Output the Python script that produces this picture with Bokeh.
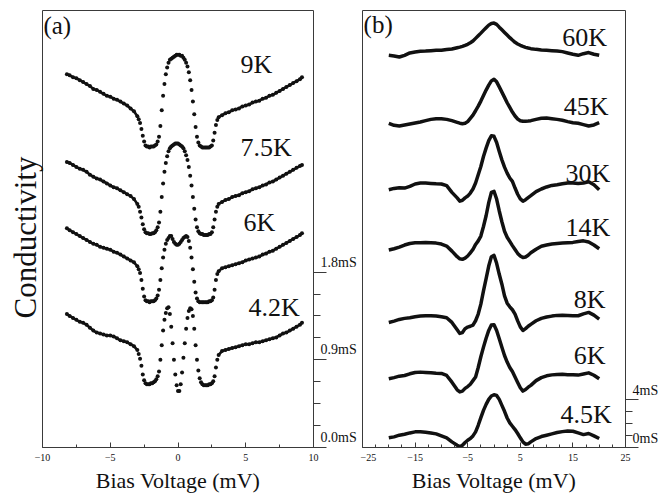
from bokeh.plotting import figure
from bokeh.models import LinearAxis, FixedTicker, Range1d, CustomJSTickFormatter, Title
from bokeh.layouts import row
from bokeh.embed import file_html
from bokeh.resources import INLINE
from bokeh.core.properties import value

FONT = "Liberation Serif"
INK = "#111111"
FRAME = "#3a3a3a"

# ---------------- panel (a) data : bias (mV) vs conductivity (mS, offset curves)
bias_a = [-8.2, -8.0, -7.75, -7.5, -7.25, -7.0, -6.75, -6.5, -6.25, -6.0, -5.75, -5.5, -5.25,
          -5.0, -4.75, -4.5, -4.25, -4.0, -3.75, -3.5, -3.25,
          -3.0, -2.9, -2.8, -2.7, -2.6, -2.5, -2.4, -2.3, -2.2, -2.1, -2.0, -1.9, -1.8, -1.7,
          -1.6, -1.5, -1.4, -1.3, -1.2, -1.1, -1.0, -0.9, -0.8, -0.7, -0.6, -0.5, -0.4, -0.3,
          -0.2, -0.1, 0.0, 0.1, 0.2, 0.3, 0.4, 0.5, 0.6, 0.7, 0.8, 0.9, 1.0, 1.1, 1.2, 1.3,
          1.4, 1.5, 1.6, 1.7, 1.8, 1.9, 2.0, 2.1, 2.2, 2.3, 2.4, 2.5, 2.6, 2.7, 2.8, 2.9, 3.0,
          3.25, 3.5, 3.75, 4.0, 4.25, 4.5, 4.75, 5.0, 5.25, 5.5, 5.75, 6.0, 6.25, 6.5, 6.75,
          7.0, 7.25, 7.5, 7.75, 8.0, 8.25, 8.5, 8.75, 9.0, 9.15]

g_9K = [3.83, 3.82, 3.80, 3.79, 3.77, 3.75, 3.73, 3.71, 3.68, 3.67, 3.65, 3.63, 3.61,
        3.60, 3.58, 3.57, 3.55, 3.53, 3.51, 3.48, 3.45,
        3.40, 3.37, 3.33, 3.27, 3.20, 3.14, 3.10, 3.09, 3.09, 3.08, 3.09, 3.09, 3.09, 3.10,
        3.11, 3.14, 3.19, 3.30, 3.46, 3.61, 3.73, 3.83, 3.90, 3.95, 3.98, 3.99, 4.00, 4.01,
        4.02, 4.03, 4.03, 4.03, 4.02, 4.02, 4.00, 3.98, 3.95, 3.91, 3.85, 3.77, 3.67, 3.55,
        3.42, 3.29, 3.19, 3.13, 3.10, 3.09, 3.08, 3.08, 3.08, 3.08, 3.08, 3.08, 3.09, 3.10,
        3.15, 3.23, 3.31, 3.36, 3.39,
        3.41, 3.43, 3.44, 3.46, 3.47, 3.48, 3.50, 3.51, 3.52, 3.54, 3.55, 3.56, 3.58,
        3.59, 3.61, 3.62, 3.64, 3.66, 3.68, 3.70, 3.72, 3.74, 3.76, 3.78, 3.80]

g_7_5K = [2.93, 2.92, 2.90, 2.88, 2.86, 2.85, 2.83, 2.80, 2.78, 2.76, 2.75, 2.73, 2.71,
          2.69, 2.67, 2.66, 2.64, 2.62, 2.60, 2.58, 2.55,
          2.50, 2.47, 2.42, 2.36, 2.29, 2.24, 2.21, 2.20, 2.20, 2.19, 2.19, 2.20, 2.20, 2.21,
          2.23, 2.26, 2.31, 2.42, 2.57, 2.71, 2.83, 2.92, 2.99, 3.04, 3.07, 3.09, 3.10, 3.11,
          3.12, 3.12, 3.12, 3.11, 3.10, 3.09, 3.07, 3.04, 3.00, 2.95, 2.88, 2.79, 2.69, 2.57,
          2.45, 2.34, 2.26, 2.22, 2.20, 2.19, 2.19, 2.18, 2.18, 2.18, 2.18, 2.19, 2.19, 2.21,
          2.26, 2.34, 2.42, 2.47, 2.50,
          2.52, 2.54, 2.55, 2.57, 2.58, 2.59, 2.61, 2.62, 2.63, 2.65, 2.66, 2.67, 2.69,
          2.70, 2.72, 2.73, 2.75, 2.77, 2.79, 2.81, 2.83, 2.85, 2.87, 2.89, 2.90]

g_6K = [2.25, 2.23, 2.21, 2.19, 2.17, 2.15, 2.13, 2.11, 2.09, 2.08, 2.06, 2.05, 2.04,
        2.03, 2.01, 2.00, 1.98, 1.96, 1.94, 1.92, 1.90,
        1.86, 1.83, 1.79, 1.72, 1.63, 1.55, 1.51, 1.50, 1.50, 1.49, 1.50, 1.50, 1.50, 1.51,
        1.53, 1.56, 1.62, 1.72, 1.84, 1.95, 2.03, 2.09, 2.13, 2.15, 2.17, 2.17, 2.14, 2.11,
        2.09, 2.08, 2.08, 2.09, 2.11, 2.13, 2.15, 2.16, 2.17, 2.16, 2.12, 2.05, 1.95, 1.83,
        1.70, 1.59, 1.53, 1.50, 1.49, 1.49, 1.49, 1.49, 1.49, 1.49, 1.49, 1.50, 1.50, 1.51,
        1.54, 1.62, 1.72, 1.78, 1.81,
        1.84, 1.85, 1.86, 1.87, 1.88, 1.89, 1.90, 1.92, 1.93, 1.94, 1.95, 1.96, 1.98,
        1.99, 2.01, 2.02, 2.04, 2.06, 2.08, 2.10, 2.12, 2.14, 2.16, 2.18, 2.20]

g_4_2K = [1.37, 1.35, 1.33, 1.31, 1.29, 1.28, 1.26, 1.23, 1.20, 1.18, 1.17, 1.16, 1.15,
          1.15, 1.14, 1.12, 1.10, 1.09, 1.08, 1.06, 1.04,
          1.00, 0.96, 0.91, 0.84, 0.75, 0.69, 0.66, 0.65, 0.65, 0.65, 0.66, 0.66, 0.67, 0.68,
          0.70, 0.73, 0.78, 0.90, 1.05, 1.20, 1.31, 1.38, 1.43, 1.44, 1.37, 1.24, 1.07, 0.90,
          0.75, 0.64, 0.58, 0.58, 0.65, 0.77, 0.92, 1.07, 1.22, 1.33, 1.40, 1.43, 1.42, 1.35,
          1.22, 1.05, 0.90, 0.79, 0.71, 0.67, 0.65, 0.64, 0.64, 0.64, 0.64, 0.65, 0.65, 0.66,
          0.68, 0.73, 0.82, 0.90, 0.95,
          0.99, 1.00, 1.01, 1.02, 1.03, 1.04, 1.05, 1.06, 1.06, 1.07, 1.08, 1.08, 1.09,
          1.10, 1.11, 1.12, 1.13, 1.15, 1.17, 1.18, 1.20, 1.22, 1.24, 1.26, 1.28]

temps_a = ["9K", "7.5K", "6K", "4.2K"]
temps_a_x = [4.61, 4.61, 4.83, 5.20]
temps_a_y = [3.93, 3.08, 2.31, 1.44]

ticks_a = [-10, -5, 0, 5, 10]
minor_a = [-7.5, -2.5, 2.5, 7.5]
scale_a = [0.0, 0.9, 1.8]
scale_a_minor = [0.225, 0.45, 0.675, 1.125, 1.35, 1.575]
scale_a_labels = ["0.0mS", "0.9mS", "1.8mS"]

# ---------------- panel (b) data
bias_b = [-20, -19, -18, -17, -16, -15, -14, -13, -12, -11, -10, -9, -8,
          -7, -6.5, -6, -5.5, -5, -4.5, -4, -3.5, -3, -2.5, -2, -1.5, -1, -0.5, 0, 0.5,
          1, 1.5, 2, 2.5, 3, 3.5, 4, 4.5, 5, 5.5, 6, 6.5, 7,
          8, 9, 10, 11, 12, 13, 14, 15, 16, 17, 18, 19, 20]

g_60K = [32.83, 32.78, 32.69, 32.83, 33.03, 33.11, 33.17, 33.19, 33.22, 33.25, 33.25, 33.31, 33.36,
         33.47, 33.52, 33.58, 33.66, 33.75, 33.88, 34.03, 34.25, 34.47, 34.69, 34.92, 35.14, 35.36,
         35.50, 35.53, 35.42, 35.19, 34.97, 34.75, 34.53, 34.31, 34.11, 33.92, 33.78, 33.67, 33.58,
         33.50, 33.44, 33.39,
         33.33, 33.28, 33.25, 33.22, 33.19, 33.14, 33.03, 32.92, 32.83, 32.97, 33.06, 32.92, 32.83]

g_45K = [27.14, 26.97, 26.92, 27.00, 27.08, 27.17, 27.25, 27.36, 27.47, 27.53, 27.53, 27.47, 27.36,
         27.22, 27.15, 27.11, 27.14, 27.28, 27.55, 27.83, 28.19, 28.58, 29.00, 29.47, 29.92, 30.33,
         30.69, 30.83, 30.61, 30.19, 29.75, 29.31, 28.86, 28.47, 28.08, 27.75, 27.50, 27.36, 27.31,
         27.31, 27.33, 27.36,
         27.47, 27.56, 27.58, 27.53, 27.47, 27.39, 27.28, 27.19, 27.14, 27.03, 26.92, 27.00, 27.19]

g_30K = [21.58, 21.69, 21.75, 21.72, 21.86, 22.06, 22.14, 22.14, 22.11, 22.08, 22.06, 21.92, 21.36,
         20.90, 20.62, 20.70, 20.90, 21.05, 21.30, 21.64, 22.14, 22.83, 23.53, 24.36, 25.06, 25.69,
         26.10, 26.05, 25.53, 24.78, 24.08, 23.47, 22.97, 22.56, 22.28, 21.72, 21.20, 20.81, 20.62,
         20.75, 20.92, 21.08,
         21.42, 21.64, 21.81, 21.94, 22.00, 22.08, 22.14, 22.14, 22.11, 22.14, 22.25, 22.00, 21.58]

g_14K = [16.53, 16.64, 16.78, 16.95, 17.08, 17.14, 17.14, 17.17, 17.14, 17.11, 17.03, 16.86, 16.44,
         15.97, 15.80, 15.75, 15.85, 16.03, 16.30, 16.58, 17.00, 17.30, 17.70, 18.50, 19.40, 20.50,
         21.36, 21.44, 20.80, 19.80, 18.90, 18.10, 17.60, 17.25, 16.90, 16.58, 16.25, 16.03, 15.90,
         15.95, 16.10, 16.30,
         16.60, 16.85, 16.95, 17.03, 17.08, 17.11, 17.14, 17.17, 17.25, 17.30, 17.20, 16.95, 16.64]

g_8K = [10.47, 10.58, 10.72, 10.81, 10.86, 10.94, 11.00, 11.03, 11.03, 11.00, 10.94, 10.86, 10.47,
        9.86, 9.55, 9.62, 9.95, 10.08, 10.15, 10.25, 10.61, 11.17, 12.00, 13.11, 14.14, 15.19,
        15.97, 16.08, 15.42, 14.50, 13.67, 12.69, 12.08, 11.78, 11.53, 11.17, 10.60, 10.10, 9.80,
        9.95, 10.15, 10.31,
        10.61, 10.81, 10.92, 11.00, 11.06, 11.08, 11.06, 11.03, 11.03, 11.19, 11.31, 11.08, 10.75]

g_6Kb = [5.75, 5.85, 5.97, 6.03, 6.17, 6.28, 6.31, 6.28, 6.25, 6.22, 6.20, 6.03, 5.47,
         4.83, 4.65, 4.72, 4.95, 5.10, 5.30, 5.60, 5.90, 6.70, 7.60, 8.40, 9.15, 9.80,
         10.25, 10.28, 9.80, 9.10, 8.40, 7.70, 7.15, 6.70, 6.36, 5.90, 5.45, 5.00, 4.72,
         4.85, 5.05, 5.20,
         5.60, 5.85, 6.00, 6.08, 6.12, 6.14, 6.10, 6.08, 6.06, 6.15, 6.25, 6.05, 5.75]

g_4_5K = [0.81, 0.89, 1.03, 1.11, 1.22, 1.31, 1.31, 1.28, 1.22, 1.14, 0.97, 0.81, 0.47,
          0.19, 0.06, 0.19, 0.42, 0.61, 0.75, 0.97, 1.31, 1.86, 2.50, 3.11, 3.61, 4.03,
          4.31, 4.42, 4.36, 4.03, 3.53, 3.03, 2.47, 2.06, 1.78, 1.50, 1.17, 0.81, 0.47,
          0.28, 0.31, 0.47,
          0.75, 0.92, 1.03, 1.14, 1.25, 1.33, 1.39, 1.36, 1.22, 1.08, 1.17, 0.97, 0.75]

temps_b = ["60K", "45K", "30K", "14K", "8K", "6K", "4.5K"]
temps_b_x = [12.97, 13.27, 13.59, 13.59, 15.17, 15.17, 12.64]
temps_b_y = [34.36, 28.53, 22.97, 18.39, 12.42, 7.67, 2.75]

ticks_b = [-25, -15, -5, 5, 15, 25]
minor_b = [-22.5, -20, -17.5, -12.5, -10, -7.5, -2.5, 0, 2.5, 7.5, 10, 12.5, 17.5, 20, 22.5]
scale_b = [0, 4]
scale_b_minor = [1, 2, 3]
scale_b_labels = ["0mS", "4mS"]

for s in (g_9K, g_7_5K, g_6K, g_4_2K):
    assert len(s) == len(bias_a), len(s)
for s in (g_60K, g_45K, g_30K, g_14K, g_8K, g_6Kb, g_4_5K):
    assert len(s) == len(bias_b), len(s)

H = 495
BOTTOM = 46


def style_common(p):
    p.xgrid.visible = False
    p.ygrid.visible = False
    p.outline_line_color = FRAME
    p.outline_line_width = 1
    ax = p.xaxis[0]
    ax.major_tick_in = 5
    ax.major_tick_out = 0
    ax.minor_tick_in = 3
    ax.minor_tick_out = 0
    ax.axis_line_color = FRAME
    ax.major_tick_line_color = FRAME
    ax.minor_tick_line_color = FRAME
    ax.major_label_text_font = FONT
    ax.major_label_text_font_size = "10px"
    ax.major_label_text_color = INK
    ax.major_label_standoff = 6
    ax.axis_label = "Bias Voltage (mV)"
    ax.axis_label_text_font = FONT
    ax.axis_label_text_font_size = "22px"
    ax.axis_label_text_font_style = "normal"
    ax.axis_label_text_color = INK
    ax.axis_label_standoff = 4


def add_scale(p, ticks, minors, labels, px_up, units_per_px):
    # tick marks of the conductivity scale bar
    tick_axis = LinearAxis(ticker=FixedTicker(ticks=ticks, minor_ticks=minors),
                           bounds=(ticks[0], ticks[-1]),
                           major_tick_in=0, major_tick_out=13, minor_tick_in=0, minor_tick_out=7,
                           axis_line_color=FRAME, major_tick_line_color=FRAME,
                           minor_tick_line_color=FRAME, major_label_standoff=0,
                           formatter=CustomJSTickFormatter(code="return ''"))
    p.add_layout(tick_axis, "right")
    # its labels sit just above each major tick
    label_pos = [t + px_up * units_per_px for t in ticks]
    label_axis = LinearAxis(ticker=FixedTicker(ticks=label_pos), axis_line_color=None,
                            major_tick_line_color=None, minor_tick_line_color=None,
                            major_tick_in=0, major_tick_out=0, minor_tick_in=0, minor_tick_out=0,
                            major_label_standoff=-6, major_label_text_font=FONT,
                            major_label_text_font_size="14px", major_label_text_color=INK,
                            formatter=CustomJSTickFormatter(args=dict(labels=labels),
                                                            code="return labels[index]"))
    p.add_layout(label_axis, "right")


# ---------------- panel (a)
top_a = 7
ya_end = (H - BOTTOM - top_a) * 0.010147
pa = figure(width=360, height=H, x_range=Range1d(-10, 10), y_range=Range1d(0, ya_end),
            output_backend="svg", toolbar_location=None, y_axis_location=None,
            min_border_left=42, min_border_right=47, min_border_top=top_a,
            min_border_bottom=BOTTOM)
style_common(pa)
pa.xaxis[0].ticker = FixedTicker(ticks=ticks_a, minor_ticks=minor_a)
add_scale(pa, scale_a, scale_a_minor, scale_a_labels, 10, 0.010147)
pa.add_layout(Title(text="Conductivity", align="left", offset=129, standoff=0,
                    text_font=FONT, text_font_size="31px", text_font_style="normal",
                    text_color=INK), "left")

for series in (g_9K, g_7_5K, g_6K, g_4_2K):
    # the flat outer wings are so densely sampled that the dots merge into a band
    pa.line(bias_a[:22], series[:22], line_width=2.6, color=INK)
    pa.line(bias_a[81:], series[81:], line_width=2.6, color=INK)
    pa.scatter(bias_a, series, size=4.0, color=INK, line_width=0)

pa.text(x=temps_a_x, y=temps_a_y, text=temps_a, text_font=value(FONT),
        text_font_size=value("26px"), text_align="left", text_baseline="middle", text_color=INK)
pa.text(x=[-9.93], y=[4.33], text=["(a)"], text_font=value(FONT), text_font_size=value("25px"),
        text_align="left", text_baseline="middle", text_color=INK)

# ---------------- panel (b)
top_b = 10
yb_end = (H - BOTTOM - top_b) / 12.0
pb = figure(width=303, height=H, x_range=Range1d(-25, 25), y_range=Range1d(0, yb_end),
            output_backend="svg", toolbar_location=None, y_axis_location=None,
            min_border_left=2, min_border_right=38, min_border_top=top_b,
            min_border_bottom=BOTTOM)
style_common(pb)
pb.xaxis[0].ticker = FixedTicker(ticks=ticks_b, minor_ticks=minor_b)
add_scale(pb, scale_b, scale_b_minor, scale_b_labels, 9, 1 / 12.0)

for series in (g_60K, g_45K, g_30K, g_14K, g_8K, g_6Kb, g_4_5K):
    pb.line(bias_b, series, line_width=3.5, color=INK, line_join="round")

pb.text(x=temps_b_x, y=temps_b_y, text=temps_b, text_font=value(FONT),
        text_font_size=value("26px"), text_align="left", text_baseline="middle", text_color=INK)
pb.text(x=[-24.8], y=[35.42], text=["(b)"], text_font=value(FONT), text_font_size=value("25px"),
        text_align="left", text_baseline="middle", text_color=INK)

layout = row(pa, pb)
open("out.html", "w").write(file_html(layout, INLINE))
